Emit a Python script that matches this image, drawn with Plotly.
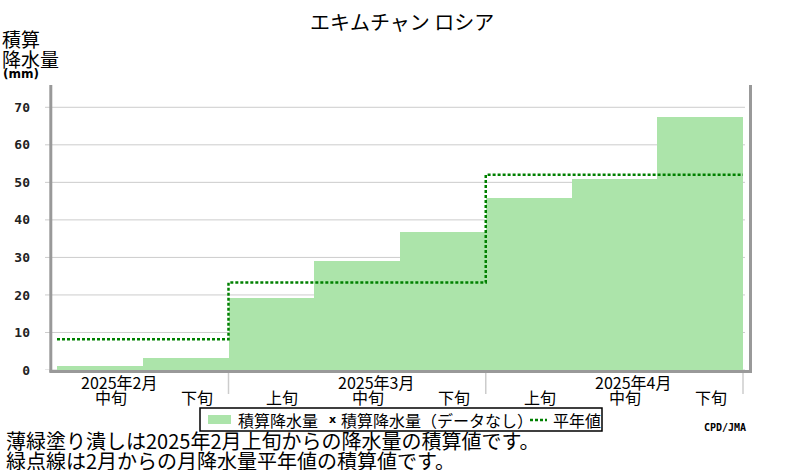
import plotly.graph_objects as go

# ---- data ----
STATION = "エキムチャン ロシア"
MONTH_LABELS = ["2025年2月", "2025年3月", "2025年4月"]
MONTH_DEKADS = [["中旬", "下旬"], ["上旬", "中旬", "下旬"], ["上旬", "中旬", "下旬"]]
ACCUM_PRECIP = [1.0, 3.3, 19.1, 29.0, 36.9, 45.9, 51.0, 67.4]   # mm, cumulative
NORMAL_ACCUM = [8.2, 23.3, 52.0]                                   # mm, cumulative monthly normal
Y_TICKS = [0, 10, 20, 30, 40, 50, 60, 70]

# ---- layout geometry (pixels) ----
W, H = 800, 470
L, R, T, B = 51, 50, 85, 100
PW, PH = W - L - R, H - T - B
BAR_PX = 85.75
X0 = -0.5 - (57 - L) / BAR_PX
X1 = X0 + PW / BAR_PX
Y_MAX = PH / 3.753

def px(x):
    return (x - L) / PW

def py(y):
    return (H - B - y) / PH

BAR_COLOR = "#ace4aa"
NORM_COLOR = "#008000"
JP = "Noto Sans CJK JP"

# derived positions
dekad_labels = [d for m in MONTH_DEKADS for d in m]
xs = list(range(len(ACCUM_PRECIP)))
bounds = []
start = 0
for m in MONTH_DEKADS:
    bounds.append((start - 0.5, start + len(m) - 0.5))
    start += len(m)

step_x, step_y = [], []
for (a, b), v in zip(bounds, NORMAL_ACCUM):
    step_x += [a, b]
    step_y += [v, v]

fig = go.Figure()
fig.add_trace(go.Bar(x=xs, y=ACCUM_PRECIP, width=1.0, marker=dict(color=BAR_COLOR, line=dict(width=0)),
                     showlegend=False, hoverinfo="skip"))
fig.add_trace(go.Scatter(x=step_x, y=step_y, mode="lines",
                         line=dict(color=NORM_COLOR, width=2.5, dash="3px,2px"),
                         showlegend=False, hoverinfo="skip"))

shapes = []
# grid lines
for t in Y_TICKS:
    shapes.append(dict(type="line", xref="paper", yref="y", x0=px(45), x1=px(745), y0=t, y1=t,
                       line=dict(color="#cccccc", width=1), layer="below"))
# frame: left, right, bottom
shapes.append(dict(type="line", xref="paper", yref="paper", x0=px(50.8), x1=px(50.8), y0=py(372.5), y1=py(85),
                   line=dict(color="#999999", width=3)))
shapes.append(dict(type="line", xref="paper", yref="paper", x0=px(750.5), x1=px(750.5), y0=py(372.5), y1=py(85),
                   line=dict(color="#999999", width=3)))
shapes.append(dict(type="line", xref="paper", yref="paper", x0=px(49.5), x1=px(752), y0=py(371.5), y1=py(371.5),
                   line=dict(color="#999999", width=3)))
# month separators below axis
for a, b in bounds:
    shapes.append(dict(type="line", xref="x", yref="paper", x0=b, x1=b, y0=py(373), y1=py(394),
                       line=dict(color="#cccccc", width=1.5)))

ann = []
# dekad labels
for i, lab in enumerate(dekad_labels):
    ann.append(dict(x=i, y=py(397), xref="x", yref="paper", text=lab, showarrow=False, xshift=11,
                    font=dict(family=JP, size=16, color="#000"), xanchor="center", yanchor="middle"))
# month labels (above middle dekad)
start = 0
for m, lab in zip(MONTH_DEKADS, MONTH_LABELS):
    mid = start + m.index("中旬")
    ann.append(dict(x=mid, y=py(382), xref="x", yref="paper", text=lab, showarrow=False, xshift=19,
                    font=dict(family=JP, size=16, color="#000"), xanchor="center", yanchor="middle"))
    start += len(m)

# title
ann.append(dict(x=px(402), y=py(22), xref="paper", yref="paper", text=STATION, showarrow=False,
                font=dict(family=JP, size=20, color="#000"), xanchor="center", yanchor="middle"))
# y axis title
ann.append(dict(x=px(0), y=py(39), xref="paper", yref="paper", text="積算", showarrow=False,
                font=dict(family=JP, size=19, color="#000"), xanchor="left", yanchor="middle"))
ann.append(dict(x=px(0), y=py(59), xref="paper", yref="paper", text="降水量", showarrow=False,
                font=dict(family=JP, size=19, color="#000"), xanchor="left", yanchor="middle"))
ann.append(dict(x=px(1), y=py(74), xref="paper", yref="paper", text="<b>(mm)</b>", showarrow=False,
                font=dict(family="DejaVu Sans", size=12, color="#000"), xanchor="left", yanchor="middle"))

# legend box
shapes.append(dict(type="rect", xref="paper", yref="paper", x0=px(200), x1=px(602), y0=py(431), y1=py(408),
                   line=dict(color="#000", width=1.5), fillcolor="white"))
shapes.append(dict(type="rect", xref="paper", yref="paper", x0=px(208), x1=px(231), y0=py(424), y1=py(415),
                   line=dict(width=0), fillcolor=BAR_COLOR))
shapes.append(dict(type="line", xref="paper", yref="paper", x0=px(530), x1=px(547), y0=py(420), y1=py(420),
                   line=dict(color=NORM_COLOR, width=2.5, dash="3px,2px")))
ann.append(dict(x=px(236), y=py(420), xref="paper", yref="paper", text="積算降水量", showarrow=False,
                font=dict(family=JP, size=16, color="#000"), xanchor="left", yanchor="middle"))
ann.append(dict(x=px(327), y=py(419), xref="paper", yref="paper", text="<b>x</b>", showarrow=False,
                font=dict(family="DejaVu Sans", size=11, color="#000"), xanchor="left", yanchor="middle"))
ann.append(dict(x=px(339), y=py(420), xref="paper", yref="paper", text="積算降水量（データなし）", showarrow=False,
                font=dict(family=JP, size=16, color="#000"), xanchor="left", yanchor="middle"))
ann.append(dict(x=px(551), y=py(420), xref="paper", yref="paper", text="平年値", showarrow=False,
                font=dict(family=JP, size=16, color="#000"), xanchor="left", yanchor="middle"))
# credit
ann.append(dict(x=px(748), y=py(427), xref="paper", yref="paper", text="<b>CPD/JMA</b>", showarrow=False,
                font=dict(family="DejaVu Sans Mono", size=10, color="#000"), xanchor="right", yanchor="middle"))
# notes
ann.append(dict(x=px(4), y=py(441), xref="paper", yref="paper",
                text="薄緑塗り潰しは2025年2月上旬からの降水量の積算値です。", showarrow=False,
                font=dict(family=JP, size=20, color="#000"), xanchor="left", yanchor="middle"))
ann.append(dict(x=px(4), y=py(460), xref="paper", yref="paper",
                text="緑点線は2月からの月降水量平年値の積算値です。", showarrow=False,
                font=dict(family=JP, size=20, color="#000"), xanchor="left", yanchor="middle"))

fig.update_layout(
    width=W, height=H,
    margin=dict(l=L, r=R, t=T, b=B, pad=0),
    paper_bgcolor="white", plot_bgcolor="white",
    showlegend=False,
    bargap=0,
    xaxis=dict(range=[X0, X1], showgrid=False, zeroline=False, showline=False,
               showticklabels=False, ticks="", fixedrange=True),
    yaxis=dict(range=[0, Y_MAX], tickvals=Y_TICKS, ticktext=[str(t) for t in Y_TICKS],
               showgrid=False, zeroline=False, showline=False, ticks="",
               ticklabelstandoff=20,
               tickfont=dict(family="DejaVu Sans Mono", size=13, color="#222", weight="bold"),
               fixedrange=True),
    shapes=shapes,
    annotations=ann,
)

fig.write_html("out.html", config={"staticPlot": True},
               post_script="document.body.style.margin='0';document.body.style.overflow='hidden';")
